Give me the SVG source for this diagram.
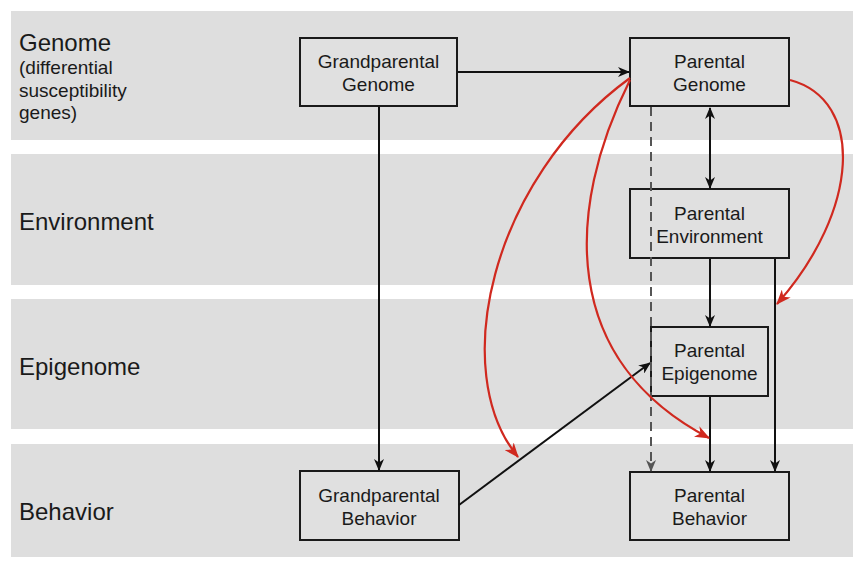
<svg xmlns="http://www.w3.org/2000/svg" width="853" height="567" viewBox="0 0 853 567">
<style>
.band{fill:#dedede}
.box{fill:#e0e0e0;stroke:#1a1a1a;stroke-width:2}
.lbl{font-family:"Liberation Sans",Arial,sans-serif;fill:#1a1a1a}
.big{font-size:24px}
.sm{font-size:19px}
.nt{font-family:"Liberation Sans",Arial,sans-serif;font-size:19px;fill:#1a1a1a;text-anchor:middle}
.blk{stroke:#111;stroke-width:2;fill:none}
.red{stroke:#d0291f;stroke-width:2.2;fill:none}
.dash{stroke:#555;stroke-width:2;fill:none;stroke-dasharray:9,6}
</style>
<defs>
<marker id="ab" viewBox="0 0 12 10" refX="11" refY="5" markerWidth="12" markerHeight="10" markerUnits="userSpaceOnUse" orient="auto-start-reverse">
<path d="M0,0 L12,5 L0,10 L3.5,5 z" fill="#111"/>
</marker>
<marker id="ar" viewBox="0 0 14 11" refX="13" refY="5.5" markerWidth="15" markerHeight="12" markerUnits="userSpaceOnUse" orient="auto">
<path d="M0,0 L14,5.5 L0,11 L4,5.5 z" fill="#d0291f"/>
</marker>
<marker id="ag" viewBox="0 0 12 10" refX="11" refY="5" markerWidth="12" markerHeight="10" markerUnits="userSpaceOnUse" orient="auto">
<path d="M0,0 L12,5 L0,10 L3.5,5 z" fill="#555"/>
</marker>
</defs>
<rect width="853" height="567" fill="#ffffff"/>
<g id="bands">
<rect class="band" x="11" y="11" width="842" height="129"/>
<rect class="band" x="11" y="154" width="842" height="131"/>
<rect class="band" x="11" y="299" width="842" height="130"/>
<rect class="band" x="11" y="444" width="842" height="113"/>
</g>
<g id="row-labels">
<text class="lbl big" x="19" y="51">Genome</text>
<text class="lbl sm" x="19" y="74">(differential</text>
<text class="lbl sm" x="19" y="97">susceptibility</text>
<text class="lbl sm" x="19" y="119">genes)</text>
<text class="lbl big" x="19" y="230">Environment</text>
<text class="lbl big" x="19" y="375">Epigenome</text>
<text class="lbl big" x="19" y="520">Behavior</text>
</g>
<g id="grandparental-genome">
<rect class="box" x="300" y="38" width="157" height="68"/>
<text class="nt" x="378.5" y="68">Grandparental</text>
<text class="nt" x="378.5" y="91">Genome</text>
</g>
<g id="parental-genome">
<rect class="box" x="630" y="38" width="159" height="68"/>
<text class="nt" x="709.5" y="68">Parental</text>
<text class="nt" x="709.5" y="91">Genome</text>
</g>
<g id="parental-environment">
<rect class="box" x="630" y="189" width="159" height="69"/>
<text class="nt" x="709.5" y="220">Parental</text>
<text class="nt" x="709.5" y="243">Environment</text>
</g>
<g id="parental-epigenome">
<rect class="box" x="651" y="327" width="117" height="69"/>
<text class="nt" x="709.5" y="357">Parental</text>
<text class="nt" x="709.5" y="380">Epigenome</text>
</g>
<g id="grandparental-behavior">
<rect class="box" x="300" y="471" width="159" height="69"/>
<text class="nt" x="379" y="502">Grandparental</text>
<text class="nt" x="379" y="525">Behavior</text>
</g>
<g id="parental-behavior">
<rect class="box" x="630" y="472" width="159" height="68"/>
<text class="nt" x="709.5" y="502">Parental</text>
<text class="nt" x="709.5" y="525">Behavior</text>
</g>
<g id="connectors">
<line class="blk" x1="458" y1="72" x2="629" y2="72" marker-end="url(#ab)"/>
<line class="blk" x1="379" y1="107" x2="379" y2="470" marker-end="url(#ab)"/>
<line class="blk" x1="710" y1="108" x2="710" y2="188" marker-start="url(#ab)" marker-end="url(#ab)"/>
<line class="blk" x1="710" y1="259" x2="710" y2="326" marker-end="url(#ab)"/>
<line class="blk" x1="775" y1="259" x2="775" y2="471" marker-end="url(#ab)"/>
<line class="blk" x1="710" y1="397" x2="710" y2="471" marker-end="url(#ab)"/>
<line class="blk" x1="459" y1="505" x2="650" y2="363" marker-end="url(#ab)"/>
<line class="dash" x1="651" y1="107" x2="651" y2="471" marker-end="url(#ag)"/>
<path class="red" d="M630,78 C490,180 448,372 518,457" marker-end="url(#ar)"/>
<path class="red" d="M630,80 C565,210 560,360 709,438" marker-end="url(#ar)"/>
<path class="red" d="M790,80 C865,100 860,210 777,304" marker-end="url(#ar)"/>
</g>
</svg>
